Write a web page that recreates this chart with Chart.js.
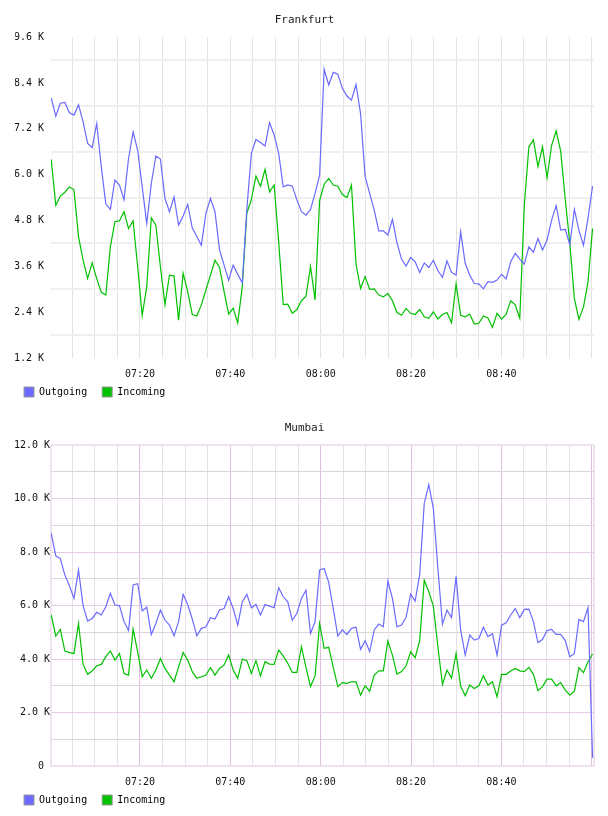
<!DOCTYPE html>
<html>
<head>
<meta charset="utf-8">
<script src="https://cdn.jsdelivr.net/npm/chart.js@4.4.1/dist/chart.umd.min.js"></script>
<style>
  body { margin: 0; background: #fff; }
  .box { position: relative; width: 608px; height: 408px; }
</style>
</head>
<body>
<div class="box"><canvas id="frankfurt"></canvas></div>
<div class="box"><canvas id="mumbai"></canvas></div>
<script>
// traffic in K, one sample per minute starting just after 07:00
var frankOut = [8.01, 7.53, 7.87, 7.89, 7.62, 7.56, 7.83, 7.39, 6.82, 6.71,
  7.34, 6.21, 5.23, 5.09, 5.86, 5.73, 5.34, 6.43, 7.12, 6.64,
  5.68, 4.72, 5.77, 6.49, 6.41, 5.38, 5.03, 5.42, 4.68, 4.92,
  5.22, 4.61, 4.38, 4.15, 4.99, 5.38, 5.03, 4.03, 3.63, 3.24,
  3.63, 3.39, 3.17, 5.10, 6.56, 6.92, 6.84, 6.75, 7.36, 7.04,
  6.56, 5.68, 5.73, 5.70, 5.34, 5.03, 4.94, 5.09, 5.51, 5.99,
  8.76, 8.35, 8.68, 8.63, 8.26, 8.06, 7.95, 8.36, 7.60, 5.95,
  5.51, 5.07, 4.53, 4.53, 4.42, 4.83, 4.22, 3.79, 3.61, 3.83,
  3.72, 3.44, 3.69, 3.57, 3.76, 3.49, 3.31, 3.74, 3.44, 3.37,
  4.51, 3.68, 3.37, 3.15, 3.14, 3.01, 3.20, 3.18, 3.24, 3.39,
  3.27, 3.72, 3.94, 3.79, 3.66, 4.11, 3.97, 4.33, 4.03, 4.29,
  4.81, 5.19, 4.55, 4.57, 4.17, 5.09, 4.55, 4.15, 4.86, 5.70];
var frankIn = [6.40, 5.20, 5.44, 5.54, 5.68, 5.61, 4.38, 3.76, 3.28, 3.69,
  3.28, 2.92, 2.85, 4.11, 4.77, 4.79, 5.03, 4.59, 4.79, 3.59,
  2.32, 3.07, 4.87, 4.68, 3.59, 2.60, 3.37, 3.35, 2.19, 3.42,
  2.94, 2.34, 2.30, 2.59, 2.98, 3.37, 3.76, 3.57, 2.94, 2.35,
  2.50, 2.12, 3.07, 4.99, 5.35, 5.96, 5.70, 6.14, 5.55, 5.73,
  4.24, 2.60, 2.61, 2.37, 2.47, 2.70, 2.82, 3.59, 2.72, 5.33,
  5.75, 5.90, 5.73, 5.70, 5.48, 5.40, 5.73, 3.66, 3.02, 3.33,
  3.00, 3.01, 2.85, 2.80, 2.89, 2.70, 2.39, 2.32, 2.50, 2.37,
  2.34, 2.47, 2.28, 2.24, 2.41, 2.22, 2.34, 2.39, 2.12, 3.14,
  2.32, 2.28, 2.35, 2.09, 2.11, 2.30, 2.25, 2.00, 2.37, 2.22,
  2.35, 2.70, 2.59, 2.24, 5.20, 6.73, 6.91, 6.21, 6.73, 5.92,
  6.77, 7.15, 6.61, 5.35, 4.20, 2.76, 2.21, 2.53, 3.20, 4.59];
var mumbaiOut = [8.70, 7.86, 7.76, 7.14, 6.74, 6.27, 7.33, 6.00, 5.42, 5.52,
  5.75, 5.65, 5.96, 6.46, 6.02, 6.00, 5.40, 5.07, 6.77, 6.82,
  5.80, 5.94, 4.92, 5.33, 5.83, 5.46, 5.27, 4.87, 5.40, 6.42,
  6.04, 5.50, 4.87, 5.15, 5.20, 5.55, 5.50, 5.84, 5.89, 6.33,
  5.89, 5.27, 6.14, 6.42, 5.92, 6.04, 5.65, 6.04, 5.98, 5.92,
  6.67, 6.33, 6.14, 5.45, 5.71, 6.27, 6.58, 4.96, 5.40, 7.33,
  7.39, 6.87, 5.89, 4.86, 5.09, 4.92, 5.15, 5.19, 4.36, 4.69,
  4.28, 5.09, 5.31, 5.21, 6.92, 6.27, 5.21, 5.27, 5.55, 6.43,
  6.17, 7.17, 9.82, 10.53, 9.63, 7.39, 5.30, 5.83, 5.55, 7.10,
  5.09, 4.15, 4.90, 4.71, 4.77, 5.19, 4.84, 4.95, 4.15, 5.27,
  5.36, 5.65, 5.89, 5.55, 5.86, 5.87, 5.40, 4.61, 4.74, 5.07,
  5.11, 4.92, 4.92, 4.69, 4.09, 4.21, 5.48, 5.40, 5.92, 0.31];
var mumbaiIn = [5.65, 4.86, 5.11, 4.30, 4.24, 4.21, 5.33, 3.80, 3.43, 3.55,
  3.75, 3.80, 4.09, 4.30, 3.96, 4.21, 3.46, 3.40, 5.12, 4.27,
  3.34, 3.59, 3.28, 3.59, 4.02, 3.65, 3.40, 3.15, 3.71, 4.25,
  3.96, 3.53, 3.28, 3.34, 3.40, 3.68, 3.40, 3.65, 3.78, 4.15,
  3.59, 3.28, 4.00, 3.94, 3.46, 3.94, 3.37, 3.90, 3.81, 3.80,
  4.34, 4.11, 3.84, 3.50, 3.50, 4.46, 3.69, 2.97, 3.37, 5.33,
  4.40, 4.44, 3.69, 2.97, 3.12, 3.09, 3.15, 3.15, 2.65, 3.00,
  2.80, 3.40, 3.56, 3.56, 4.67, 4.15, 3.44, 3.53, 3.74, 4.27,
  4.05, 4.69, 6.95, 6.52, 5.98, 4.46, 3.05, 3.59, 3.28, 4.21,
  2.99, 2.63, 3.03, 2.90, 3.00, 3.38, 3.03, 3.15, 2.59, 3.43,
  3.43, 3.55, 3.65, 3.56, 3.53, 3.69, 3.43, 2.82, 2.97, 3.25,
  3.25, 3.00, 3.12, 2.84, 2.65, 2.80, 3.68, 3.49, 3.90, 4.19];

var seriesNames = ['Outgoing', 'Incoming'];
var timeLabels = {20: '07:20', 40: '07:40', 60: '08:00', 80: '08:20', 100: '08:40'};
var startMinute = 0.35, sampleMinutes = 1.007;

var FONT = 'DejaVu Sans Mono';
var BLUE = '#6a6aff', GREEN = '#00c000';

function points(arr) {
  return arr.map(function (v, i) { return {x: startMinute + i * sampleMinutes, y: v}; });
}

function makeChart(id, title, outData, inData, yOpts, purple) {
  var xMin = 0.3, xMax = 120.5;
  new Chart(document.getElementById(id), {
    type: 'line',
    data: {
      datasets: [
        {label: seriesNames[0], data: points(outData), borderColor: BLUE, backgroundColor: BLUE,
          borderWidth: 1.2, pointRadius: 0, tension: 0, fill: false},
        {label: seriesNames[1], data: points(inData), borderColor: GREEN, backgroundColor: GREEN,
          borderWidth: 1.2, pointRadius: 0, tension: 0, fill: false}
      ]
    },
    options: {
      responsive: true,
      maintainAspectRatio: false,
      animation: false,
      layout: {padding: {left: 15, right: 14, top: 0, bottom: 1}},
      plugins: {
        title: {display: true, text: title, color: '#222',
          font: {family: FONT, size: 11, weight: 'normal', lineHeight: 1.2},
          padding: {top: 14, bottom: 10}},
        legend: {position: 'bottom', align: 'start',
          labels: {boxWidth: 10, boxHeight: 10, padding: 9, color: '#111',
            font: {family: FONT, size: 10},
            generateLabels: function (chart) {
              return chart.data.datasets.map(function (ds, i) {
                return {text: ds.label + ' ', fillStyle: ds.borderColor, strokeStyle: '#999',
                  lineWidth: 1, datasetIndex: i, hidden: false};
              });
            }}},
        tooltip: {enabled: false}
      },
      scales: {
        x: {
          type: 'linear', min: xMin, max: xMax,
          afterBuildTicks: function (scale) {
            var t = [];
            for (var m = 5; m <= 120; m += 5) t.push({value: m});
            if (purple) t.push({value: xMax});
            scale.ticks = t;
          },
          afterFit: function (scale) { scale.height = 20; },
          ticks: {autoSkip: false, maxRotation: 0, padding: 10, color: '#111',
            font: {family: FONT, size: 10},
            callback: function (v) { return timeLabels[Math.round(v)] && Math.abs(v - Math.round(v)) < 0.01 ? timeLabels[Math.round(v)] : ''; }},
          grid: {drawTicks: false,
            color: function (ctx) {
              var v = ctx.tick ? ctx.tick.value : 0;
              if (!purple) return '#e4e4e4';
              if (v > 120) return '#efe2ef';
              return v % 20 === 0 ? '#dcc0dc' : '#e8e0e8';
            },
            lineWidth: function (ctx) { return (purple && ctx.tick && ctx.tick.value > 120) ? 2 : 1; }},
          border: purple ? {display: true, color: '#efe2ef', width: 2} : {display: false}
        },
        y: yOpts
      }
    }
  });
}

makeChart('frankfurt', 'Frankfurt', frankOut, frankIn, {
  min: 1.2, max: 9.6,
  afterBuildTicks: function (scale) {
    var t = [];
    for (var k = 2; k <= 16; k++) t.push({value: k * 0.6});
    scale.ticks = t;
  },
  afterFit: function (scale) { scale.width = 36; },
  ticks: {padding: 7, color: '#111', font: {family: FONT, size: 10},
    callback: function (v) {
      var k = Math.round(v / 0.6);
      return k % 2 === 0 ? (k * 0.6).toFixed(1) + ' K' : '';
    }},
  grid: {drawTicks: false, lineWidth: 2,
    color: function (ctx) {
      var k = Math.round(ctx.tick.value / 0.6);
      return k % 2 === 1 ? '#efefef' : 'rgba(0,0,0,0)';
    }},
  border: {display: false}
}, false);

makeChart('mumbai', 'Mumbai', mumbaiOut, mumbaiIn, {
  min: 0, max: 12,
  afterBuildTicks: function (scale) {
    var t = [];
    for (var k = 0; k <= 12; k++) t.push({value: k});
    scale.ticks = t;
  },
  afterFit: function (scale) { scale.width = 36; },
  ticks: {padding: 1, color: '#111', font: {family: FONT, size: 10},
    callback: function (v) {
      if (v === 0) return '0 ';
      return v % 2 === 0 ? v.toFixed(1) + ' K' : '';
    }},
  grid: {drawTicks: false,
    lineWidth: function (ctx) { var v = ctx.tick.value; return (v === 0 || v === 12) ? 2 : 1; },
    color: function (ctx) {
      var v = ctx.tick.value;
      if (v === 0 || v === 12) return '#efe2ef';
      return v % 2 === 0 ? '#e4cce4' : '#dcd6dc';
    }},
  border: {display: true, color: '#efe2ef', width: 2}
}, true);
</script>
</body>
</html>
